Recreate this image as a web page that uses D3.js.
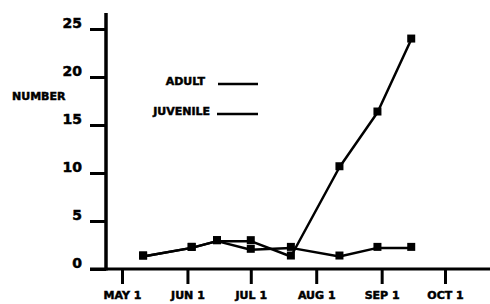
<!DOCTYPE html>
<html>
<head>
<meta charset="utf-8">
<script src="https://cdn.jsdelivr.net/npm/d3@7"></script>
<style>
body { margin: 0; background: #fff; }
text { font-family: "DejaVu Sans", sans-serif; font-weight: bold; fill: #000; stroke: #000; stroke-width: 0.5px; }
</style>
</head>
<body>
<svg></svg>
<script>
// sampling dates and counts
var dates = ["1980-05-11", "1980-06-03", "1980-06-15", "1980-07-01", "1980-07-20", "1980-08-12", "1980-08-30", "1980-09-15"];
var adult = [1.3, 2.2, 2.9, 2.9, 1.3, 10.6, 16.3, 23.9];
var juvenile = [1.3, 2.2, 2.9, 2.0, 2.2, 1.3, 2.2, 2.2];
var monthTicks = ["1980-05-01", "1980-06-01", "1980-07-01", "1980-08-01", "1980-09-01", "1980-10-01"];
var monthLabels = ["MAY 1", "JUN 1", "JUL 1", "AUG 1", "SEP 1", "OCT 1"];
var yTicks = [0, 5, 10, 15, 20, 25];
var seriesNames = ["ADULT", "JUVENILE"];

var screen = {width: 490, height: 304};

var parse = d3.utcParse("%Y-%m-%d");

var svg = d3.select("svg")
    .attr("width", screen.width)
    .attr("height", screen.height);

var xScale = d3.scaleUtc()
    .domain([parse(monthTicks[0]), parse(monthTicks[monthTicks.length - 1])])
    .range([122, 445]);
var yScale = d3.scaleLinear().domain([0, 25]).range([269, 29]);

var axisX = 106;

// y axis
var yAxis = d3.axisLeft(yScale)
    .tickValues(yTicks)
    .tickSize(16)
    .tickPadding(8)
    .tickFormat(d3.format("d"));

var gy = svg.append("g")
    .attr("transform", "translate(" + axisX + ",0)")
    .call(yAxis);
gy.select(".domain").remove();
gy.selectAll(".tick line").attr("stroke", "#000").attr("stroke-width", 3);
gy.selectAll(".tick text")
    .attr("font-size", 14)
    .attr("dy", "-0.1em");

svg.append("line")
    .attr("x1", axisX).attr("x2", axisX)
    .attr("y1", 13).attr("y2", 270.5)
    .attr("stroke", "#000").attr("stroke-width", 3.5);

// x axis
var xAxis = d3.axisBottom(xScale)
    .tickValues(monthTicks.map(parse))
    .tickSize(15)
    .tickPadding(7)
    .tickFormat(function(d, i) { return monthLabels[i]; });

var gx = svg.append("g")
    .attr("transform", "translate(0," + yScale(0) + ")")
    .call(xAxis);
gx.select(".domain").remove();
gx.selectAll(".tick line").attr("stroke", "#000").attr("stroke-width", 3);
gx.selectAll(".tick text").attr("font-size", 11);

svg.append("line")
    .attr("x1", 90).attr("x2", screen.width)
    .attr("y1", yScale(0)).attr("y2", yScale(0))
    .attr("stroke", "#000").attr("stroke-width", 3);

svg.append("text")
    .attr("x", 12)
    .attr("y", 100)
    .attr("font-size", 11)
    .text("NUMBER");

// lines
var line = d3.line()
    .x(function(d) { return xScale(d.date); })
    .y(function(d) { return yScale(d.value); });

var drawSeries = function(values)
{
    var pts = values.map(function(v, i) { return {date: parse(dates[i]), value: v}; });

    svg.append("path")
        .datum(pts)
        .attr("d", line)
        .attr("fill", "none")
        .attr("stroke", "#000")
        .attr("stroke-width", 2.5)
        .attr("stroke-linejoin", "round");

    svg.append("g").selectAll("rect")
        .data(pts)
        .enter()
        .append("rect")
        .attr("x", function(d) { return xScale(d.date) - 4; })
        .attr("y", function(d) { return yScale(d.value) - 5; })
        .attr("width", 8)
        .attr("height", 8)
        .attr("fill", "#000");
}

drawSeries(juvenile);
drawSeries(adult);

// legend
var legend = svg.append("g").selectAll("g")
    .data(seriesNames)
    .enter()
    .append("g")
    .attr("transform", function(d, i) { return "translate(0," + (84 + i * 30) + ")"; });

legend.append("text")
    .attr("x", function(d, i) { return i == 0 ? 205 : 210; })
    .attr("text-anchor", "end")
    .attr("font-size", 11)
    .attr("dy", "0.1em")
    .text(function(d) { return d; });

legend.append("line")
    .attr("x1", function(d, i) { return i == 0 ? 218 : 217; })
    .attr("x2", 258)
    .attr("y1", 0).attr("y2", 0)
    .attr("stroke", "#000")
    .attr("stroke-width", 2.5);
</script>
</body>
</html>
